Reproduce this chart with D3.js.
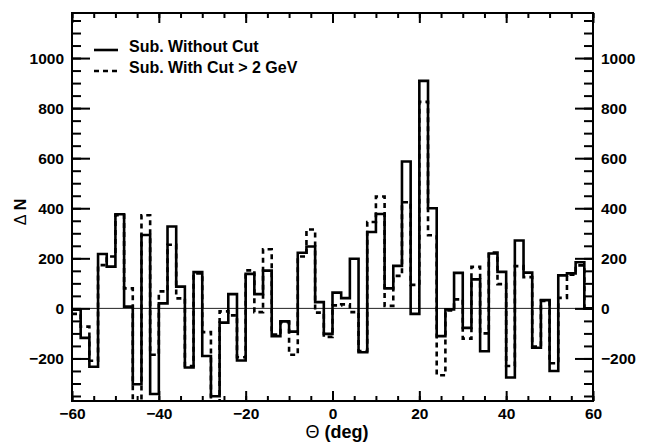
<!DOCTYPE html>
<html>
<head>
<meta charset="utf-8">
<script src="https://cdn.jsdelivr.net/npm/d3@7"></script>
<style>
  html, body { margin: 0; padding: 0; background: #fff; }
  svg { display: block; }
</style>
</head>
<body>
<div id="chart"></div>
<script>
/*Data*/
// 2 deg bins from -60 to 60 (low edge of each bin)
const binWidth = 2;
const binLow = d3.range(-60, 60, binWidth);

// Sub. Without Cut
const subWithoutCut = [
	-5, -118, -233, 217, 167, 376, 7, -303, 293, -342,
	20, 327, 87, -236, 145, -190, -351, -57, 57, -208,
	138, 57, 151, -111, -52, -93, 222, 247, 25, -102,
	63, 41, 198, -175, 305, 377, 80, 170, 587, -22,
	909, 400, -111, -4, 142, -78, 116, -171, 219, 146,
	-276, 271, 143, -157, 33, -250, 132, 140, 184, 0
];

// Sub. With Cut > 2 GeV
const subWithCut = [
	-22, -73, -209, 173, 207, 372, 80, -390, 372, -185,
	68, 254, 40, -230, 140, -95, -380, -12, -28, -195,
	152, -15, 236, -105, -55, -185, 207, 315, -17, -114,
	12, 16, -15, -170, 345, 447, 10, 130, 424, 94,
	825, 292, -267, -8, 36, -121, 166, -100, 223, 97,
	-230, 169, 125, -152, 30, -219, 42, 135, 172, 0
];

const xTicksMajor = [-60, -40, -20, 0, 20, 40, 60];
const xTicksMinor = d3.range(-60, 61, 5);
const yTicksMajor = [-200, 0, 200, 400, 600, 800, 1000];
const yTicksMinor = d3.range(-350, 1151, 50);

const legendLabels = ['Sub. Without Cut', 'Sub. With Cut > 2 GeV'];

/////////////////////////////////////////////////////////////////////////////
//STYLING
const size = { width: 645, height: 446 };
const frame = { left: 72, right: 593, top: 13, bottom: 401 };
const font = '"Liberation Sans", Arial, Helvetica, sans-serif';
const lineWidth = 2.6;

const svg = d3.select('#chart').append('svg')
	.attr('width', size.width)
	.attr('height', size.height)
	.style('font-family', font);

const x = d3.scaleLinear().domain([-60, 60]).range([frame.left, frame.right]);
const y = d3.scaleLinear().domain([-370, 1180]).range([frame.bottom, frame.top]);

svg.append('clipPath').attr('id', 'plot-clip')
	.append('rect')
	.attr('x', frame.left)
	.attr('y', frame.top)
	.attr('width', frame.right - frame.left)
	.attr('height', frame.bottom - frame.top);

// zero line
svg.append('line')
	.attr('x1', x(-60)).attr('x2', x(60))
	.attr('y1', y(0)).attr('y2', y(0))
	.attr('stroke', '#222')
	.attr('stroke-width', 1);

/*
Histogram contour: one step per bin, ending at the upper edge of the last bin.
*/
const stepPoints = (values) => {
	const pts = values.map((v, i) => [binLow[i], v]);
	pts.push([binLow[binLow.length - 1] + binWidth, values[values.length - 1]]);
	return pts;
};

const step = d3.line()
	.x(d => x(d[0]))
	.y(d => y(d[1]))
	.curve(d3.curveStepAfter);

const plot = svg.append('g').attr('clip-path', 'url(#plot-clip)');

plot.append('path')
	.attr('d', step(stepPoints(subWithCut)))
	.attr('fill', 'none')
	.attr('stroke', '#000')
	.attr('stroke-width', lineWidth)
	.attr('stroke-dasharray', '5,4');

plot.append('path')
	.attr('d', step(stepPoints(subWithoutCut)))
	.attr('fill', 'none')
	.attr('stroke', '#000')
	.attr('stroke-width', lineWidth)
	.attr('stroke-linejoin', 'miter');

//AXES (ticks drawn inward)
const styleAxis = (g) => {
	g.select('.domain').remove();
	g.selectAll('line').attr('stroke', '#000').attr('stroke-width', 2);
	g.selectAll('text')
		.attr('fill', '#000')
		.style('font-family', font)
		.style('font-size', '15.5px')
		.style('font-weight', 'bold');
};

// bottom
svg.append('g').attr('transform', `translate(0,${frame.bottom})`)
	.call(d3.axisBottom(x).tickValues(xTicksMinor).tickSizeInner(-5).tickSizeOuter(0).tickFormat(''))
	.call(styleAxis);
svg.append('g').attr('transform', `translate(0,${frame.bottom})`)
	.call(d3.axisBottom(x).tickValues(xTicksMajor).tickSizeInner(-10).tickSizeOuter(0).tickPadding(7).tickFormat(d3.format('d')))
	.call(styleAxis);

// top
svg.append('g').attr('transform', `translate(0,${frame.top})`)
	.call(d3.axisTop(x).tickValues(xTicksMinor).tickSizeInner(-5).tickSizeOuter(0).tickFormat(''))
	.call(styleAxis);
svg.append('g').attr('transform', `translate(0,${frame.top})`)
	.call(d3.axisTop(x).tickValues(xTicksMajor).tickSizeInner(-10).tickSizeOuter(0).tickFormat(''))
	.call(styleAxis);

// left
svg.append('g').attr('transform', `translate(${frame.left},0)`)
	.call(d3.axisLeft(y).tickValues(yTicksMinor).tickSizeInner(-9).tickSizeOuter(0).tickFormat(''))
	.call(styleAxis);
svg.append('g').attr('transform', `translate(${frame.left},0)`)
	.call(d3.axisLeft(y).tickValues(yTicksMajor).tickSizeInner(-18).tickSizeOuter(0).tickPadding(8).tickFormat(d3.format('d')))
	.call(styleAxis);

// right
svg.append('g').attr('transform', `translate(${frame.right},0)`)
	.call(d3.axisRight(y).tickValues(yTicksMinor).tickSizeInner(-9).tickSizeOuter(0).tickFormat(''))
	.call(styleAxis);
svg.append('g').attr('transform', `translate(${frame.right},0)`)
	.call(d3.axisRight(y).tickValues(yTicksMajor).tickSizeInner(-18).tickSizeOuter(0).tickPadding(8).tickFormat(d3.format('d')))
	.call(styleAxis);

// frame
svg.append('rect')
	.attr('x', frame.left)
	.attr('y', frame.top)
	.attr('width', frame.right - frame.left)
	.attr('height', frame.bottom - frame.top)
	.attr('fill', 'none')
	.attr('stroke', '#000')
	.attr('stroke-width', 2);

//TITLES
const xTitle = svg.append('text')
	.attr('x', 337)
	.attr('y', 438)
	.attr('text-anchor', 'middle')
	.style('font-size', '18px')
	.style('font-weight', 'bold');
xTitle.append('tspan').style('font-weight', 'normal').text('Θ');
xTitle.append('tspan').text(' (deg)');

const yTitle = svg.append('text')
	.attr('transform', 'translate(26,212) rotate(-90)')
	.attr('text-anchor', 'middle')
	.style('font-size', '16px')
	.style('font-weight', 'bold');
yTitle.append('tspan').style('font-weight', 'normal').text('Δ');
yTitle.append('tspan').text(' N');

//LEGEND
const legend = svg.append('g');
legendLabels.forEach((label, i) => {
	const rowY = 50 + i * 21;
	legend.append('line')
		.attr('x1', 94).attr('x2', 118)
		.attr('y1', rowY).attr('y2', rowY)
		.attr('stroke', '#000')
		.attr('stroke-width', lineWidth)
		.attr('stroke-dasharray', i === 0 ? null : '5,4');
	legend.append('text')
		.attr('x', 129)
		.attr('y', rowY + 2)
		.style('font-size', '16px')
		.style('font-weight', 'bold')
		.text(label);
});
</script>
</body>
</html>
